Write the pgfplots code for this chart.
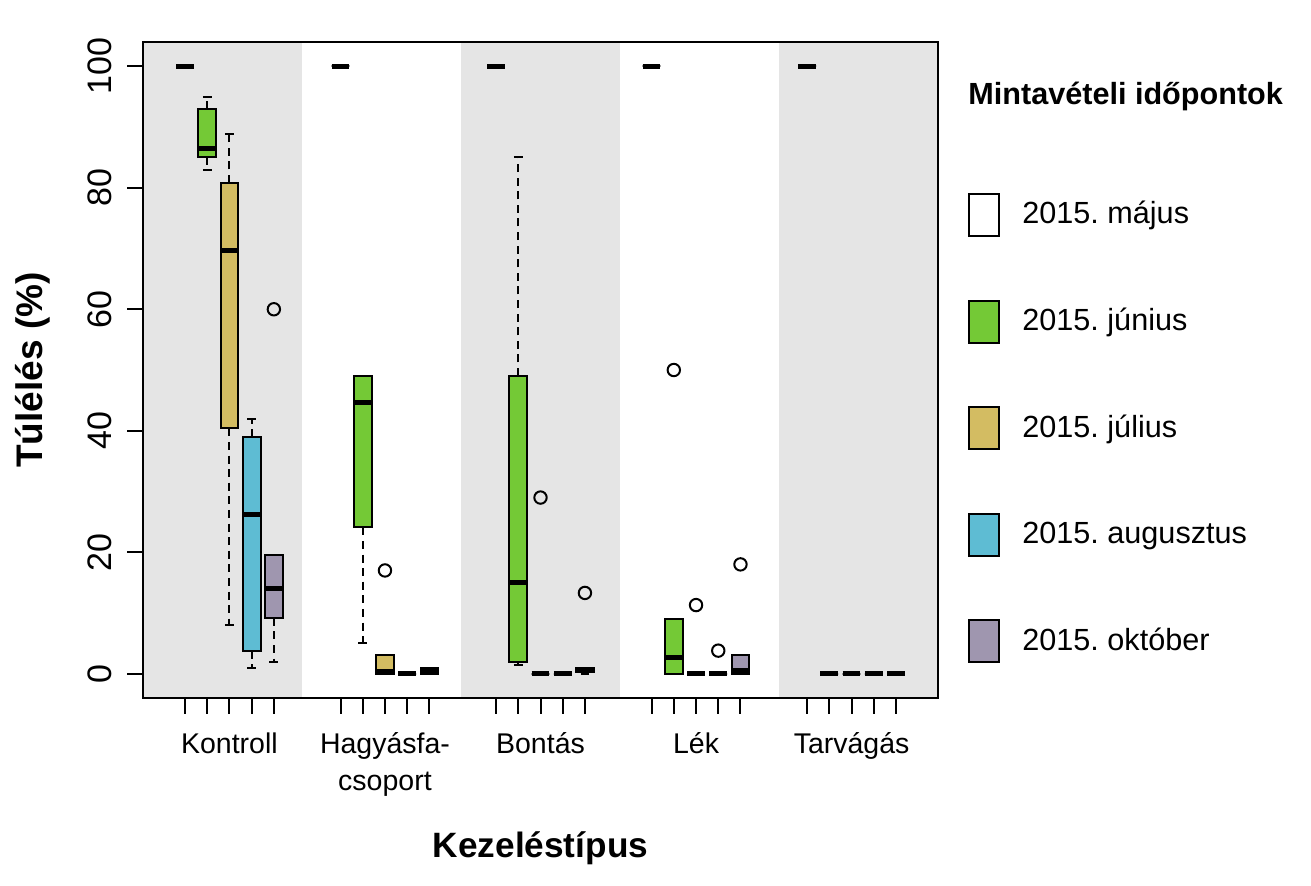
\documentclass[border=0pt]{standalone}
\usepackage{fontspec}
\setmainfont{Liberation Sans}
\usepackage{pgfplots}
\pgfplotsset{compat=1.18}
\usepgfplotslibrary{statistics}

\definecolor{bandgray}{HTML}{E5E5E5}
\definecolor{cjun}{HTML}{74C936}
\definecolor{cjul}{HTML}{D3BC62}
\definecolor{caug}{HTML}{5EBCD3}
\definecolor{cokt}{HTML}{9F96AF}

% position, lower whisker, lower quartile, median, upper quartile, upper whisker, fill
\newcommand{\bx}[7]{%
  \addplot[black, line width=1pt, boxplot/every box/.style={fill=#7},
    boxplot prepared={draw position=#1, lower whisker=#2, lower quartile=#3,
      median=#4, upper quartile=#5, upper whisker=#6}] coordinates {};}

\begin{document}
\frenchspacing
\begin{tikzpicture}
\begin{axis}[
  at={(0pt,0pt)}, anchor=south west,
  scale only axis, width=397.5pt, height=328pt,
  xmin=-0.89, xmax=34.89, ymin=-4, ymax=104,
  axis on top,
  axis line style={line width=1pt},
  tick style={line width=1pt, black},
  tick align=outside, tick pos=left,
  major tick length=7.8pt,
  xtick={1,2,3,4,5,8,9,10,11,12,15,16,17,18,19,22,23,24,25,26,29,30,31,32,33},
  xticklabels={},
  extra x ticks={3,10,17,24,31},
  extra x tick labels={Kontroll\\\mbox{},Hagyásfa-\\csoport,Bontás\\\mbox{},Lék\\\mbox{},Tarvágás\\\mbox{}},
  extra x tick style={major tick length=0pt,
    tick label style={anchor=base, align=center, yshift=-46pt,
      font=\fontsize{14.25}{18.5}\selectfont}},
  ytick={0,20,40,60,80,100},
  yticklabel style={rotate=90, anchor=base, font=\fontsize{17}{20}\selectfont},
  yticklabel shift=7.7pt,
  /pgf/number format/assume math mode=true,
  xlabel={Kezeléstípus},
  ylabel={Túlélés (\%)},
  xlabel style={at={(axis description cs:0.5,-0.2424)}, anchor=base,
    font=\bfseries\fontsize{17.6}{20}\selectfont},
  ylabel style={at={(axis description cs:-0.1258,0.5)}, anchor=base,
    font=\bfseries\fontsize{18.5}{20}\selectfont},
  boxplot/draw direction=y,
  boxplot/box extend=0.8,
  boxplot/whisker extend=0.4,
  boxplot/every median/.style={line width=2.5pt},
  boxplot/draw/lower whisker/.code={%
    \draw[dash pattern=on 4pt off 2.8pt]
      (boxplot cs:\pgfplotsboxplotvalue{lower quartile}) --
      (boxplot cs:\pgfplotsboxplotvalue{lower whisker});
    \draw (boxplot whisker cs:\pgfplotsboxplotvalue{lower whisker},0) --
      (boxplot whisker cs:\pgfplotsboxplotvalue{lower whisker},1);},
  boxplot/draw/upper whisker/.code={%
    \draw[dash pattern=on 4pt off 2.8pt]
      (boxplot cs:\pgfplotsboxplotvalue{upper quartile}) --
      (boxplot cs:\pgfplotsboxplotvalue{upper whisker});
    \draw (boxplot whisker cs:\pgfplotsboxplotvalue{upper whisker},0) --
      (boxplot whisker cs:\pgfplotsboxplotvalue{upper whisker},1);},
]
% shaded treatment bands
\addplot[fill=bandgray, draw=none] coordinates {(-0.89,-4) (6.27,-4) (6.27,104) (-0.89,104)} -- cycle;
\addplot[fill=bandgray, draw=none] coordinates {(13.42,-4) (20.58,-4) (20.58,104) (13.42,104)} -- cycle;
\addplot[fill=bandgray, draw=none] coordinates {(27.73,-4) (34.89,-4) (34.89,104) (27.73,104)} -- cycle;

% Kontroll
\bx{1}{100}{100}{100}{100}{100}{white}
\bx{2}{83}{85}{86.5}{93}{95}{cjun}
\bx{3}{8}{40.4}{69.6}{80.8}{88.8}{cjul}
\bx{4}{1}{3.8}{26.2}{38.9}{41.9}{caug}
\bx{5}{1.9}{9.2}{14}{19.6}{19.6}{cokt}
% Hagyasfa-csoport
\bx{8}{100}{100}{100}{100}{100}{white}
\bx{9}{5}{24.1}{44.6}{49}{49}{cjun}
\bx{10}{0}{0}{0.4}{3}{3}{cjul}
\bx{11}{0}{0}{0}{0}{0}{caug}
\bx{12}{0}{0}{0.3}{0.9}{0.9}{cokt}
% Bontas
\bx{15}{100}{100}{100}{100}{100}{white}
\bx{16}{1.5}{2}{15}{49}{85}{cjun}
\bx{17}{0}{0}{0}{0}{0}{cjul}
\bx{18}{0}{0}{0}{0}{0}{caug}
\bx{19}{0}{0.3}{0.7}{1}{1}{cokt}
% Lek
\bx{22}{100}{100}{100}{100}{100}{white}
\bx{23}{0}{0}{2.7}{9}{9}{cjun}
\bx{24}{0}{0}{0}{0}{0}{cjul}
\bx{25}{0}{0}{0}{0}{0}{caug}
\bx{26}{0}{0}{0.5}{3}{3}{cokt}
% Tarvagas
\bx{29}{100}{100}{100}{100}{100}{white}
\bx{30}{0}{0}{0}{0}{0}{cjun}
\bx{31}{0}{0}{0}{0}{0}{cjul}
\bx{32}{0}{0}{0}{0}{0}{caug}
\bx{33}{0}{0}{0}{0}{0}{cokt}

% outliers
\addplot[only marks, mark=o, mark size=3.1pt, mark options={line width=1pt, black}]
  coordinates {(5,60) (10,17) (17,29) (19,13.3) (23,50) (24,11.3) (25,3.8) (26,18)};
\end{axis}

% legend
\node[anchor=base west, inner sep=0pt, font=\bfseries\fontsize{15.3}{17}\selectfont]
  at (412.5pt,296.5pt) {Mintavételi időpontok};
\begin{scope}[line width=1pt]
  \draw[fill=white] (413pt,231pt) rectangle (428pt,252pt);
  \draw[fill=cjun] (413pt,177.7pt) rectangle (428pt,198.7pt);
  \draw[fill=cjul] (413pt,124.4pt) rectangle (428pt,145.4pt);
  \draw[fill=caug] (413pt,71.1pt) rectangle (428pt,92.1pt);
  \draw[fill=cokt] (413pt,17.8pt) rectangle (428pt,38.8pt);
\end{scope}
\begin{scope}[every node/.style={anchor=base west, inner sep=0pt, font=\fontsize{15.3}{18}\selectfont}]
  \node at (439.5pt,237pt) {2015. május};
  \node at (439.5pt,183.7pt) {2015. június};
  \node at (439.5pt,130.4pt) {2015. július};
  \node at (439.5pt,77.1pt) {2015. augusztus};
  \node at (439.5pt,23.8pt) {2015. október};
\end{scope}
\path[use as bounding box] (-71.5pt,-93.5pt) rectangle (584pt,349pt);
\end{tikzpicture}
\end{document}
